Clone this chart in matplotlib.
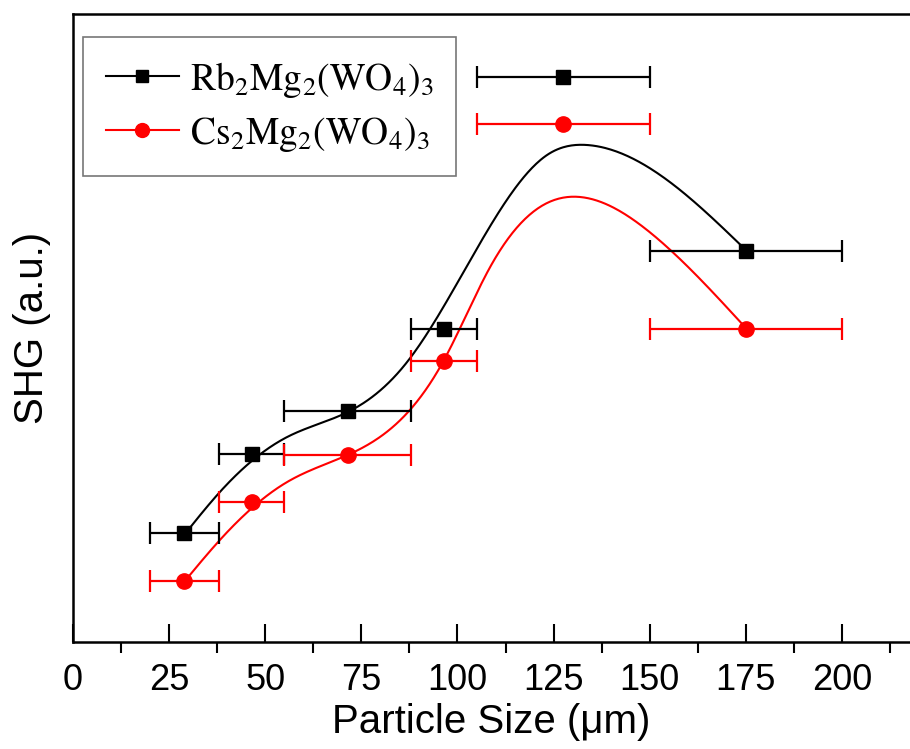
import numpy as np
import matplotlib.pyplot as plt
from matplotlib.ticker import MultipleLocator

plt.rcParams['font.family'] = ['Liberation Sans', 'DejaVu Sans']
plt.rcParams['mathtext.fontset'] = 'stix'

# sieve ranges (um) and SHG intensities (a.u.)
size_lo = np.array([20, 38, 55, 88, 105, 150])
size_hi = np.array([38, 55, 88, 105, 150, 200])
size_mid = (size_lo + size_hi) / 2
shg_rb = np.array([1.09, 1.88, 2.31, 3.13, 5.65, 3.91])
shg_cs = np.array([0.61, 1.40, 1.87, 2.81, 5.18, 3.13])

# guide-to-the-eye curves, knots
curve_x_rb = [29.1, 38.2, 55.7, 72.0, 86.9, 105.9, 123.3, 133.7, 157.9, 175.0]
curve_y_rb = [1.08, 1.50, 2.05, 2.31, 2.80, 3.99, 4.87, 4.97, 4.52, 3.92]
curve_x_cs = [29.1, 38.2, 55.7, 72.0, 96.5, 108.5, 123.3, 131.9, 149.3, 175.0]
curve_y_cs = [0.61, 1.02, 1.60, 1.88, 2.82, 3.75, 4.39, 4.45, 4.12, 3.14]


def spline(x, y, n=400):
    # natural cubic spline through the knots
    x = np.asarray(x, float)
    y = np.asarray(y, float)
    k = len(x)
    h = np.diff(x)
    A = np.zeros((k, k))
    b = np.zeros(k)
    A[0, 0] = A[-1, -1] = 1
    for i in range(1, k - 1):
        A[i, i - 1] = h[i - 1]
        A[i, i] = 2 * (h[i - 1] + h[i])
        A[i, i + 1] = h[i]
        b[i] = 6 * ((y[i + 1] - y[i]) / h[i] - (y[i] - y[i - 1]) / h[i - 1])
    m = np.linalg.solve(A, b)
    xs = np.linspace(x[0], x[-1], n)
    j = np.clip(np.searchsorted(x, xs) - 1, 0, k - 2)
    t = xs - x[j]
    hj = h[j]
    ys = (m[j] * (x[j + 1] - xs) ** 3 / (6 * hj) + m[j + 1] * t ** 3 / (6 * hj)
          + (y[j] / hj - m[j] * hj / 6) * (x[j + 1] - xs)
          + (y[j + 1] / hj - m[j + 1] * hj / 6) * t)
    return xs, ys


fig = plt.figure(figsize=(9.1, 7.49), dpi=100)
ax = fig.add_axes([73 / 910, 107 / 749, 837 / 910, 628 / 749])

sx, sy = spline(curve_x_rb, curve_y_rb)
ax.plot(sx, sy, color='black', lw=1.5, zorder=2)
sx, sy = spline(curve_x_cs, curve_y_cs)
ax.plot(sx, sy, color='red', lw=1.5, zorder=2)

xerr = [size_mid - size_lo, size_hi - size_mid]
ax.errorbar(size_mid, shg_rb, xerr=xerr, fmt='none', ecolor='black', elinewidth=1.6,
            capsize=8, capthick=1.6, zorder=3)
ax.errorbar(size_mid, shg_cs, xerr=xerr, fmt='none', ecolor='red', elinewidth=1.6,
            capsize=8, capthick=1.6, zorder=3)
ax.plot(size_mid, shg_rb, 's', color='black', ms=10, zorder=4)
ax.plot(size_mid, shg_cs, 'o', color='red', ms=11, zorder=4)

# legend handles
ax.plot([], [], '-s', color='black', lw=1.5, ms=9,
        label=r'$\mathrm{Rb_2Mg_2(WO_4)_3}$')
ax.plot([], [], '-o', color='red', lw=1.5, ms=10,
        label=r'$\mathrm{Cs_2Mg_2(WO_4)_3}$')
leg = ax.legend(loc='upper left', bbox_to_anchor=(10 / 837, 1 - 23 / 628), fontsize=27,
                fancybox=False, edgecolor='#555555', handlelength=1.95, handletextpad=0.3,
                labelspacing=0.4, borderpad=0.6, borderaxespad=0)
leg.get_frame().set_linewidth(1.2)

ax.set_xlim(0, 217.7)
ax.set_ylim(0, 6.28)
ax.xaxis.set_major_locator(MultipleLocator(25))
ax.xaxis.set_minor_locator(MultipleLocator(12.5))
ax.tick_params(axis='x', which='major', direction='in', length=13, width=1.5,
               labelsize=26, pad=15)
ax.tick_params(axis='x', which='minor', direction='out', length=8, width=1.5)
ax.set_yticks([])
ax.spines['right'].set_visible(False)
for s in ['left', 'bottom', 'top']:
    ax.spines[s].set_linewidth(1.8)

ax.set_xlabel('Particle Size (\u03bcm)', fontsize=29, labelpad=4)
ax.set_ylabel('SHG (a.u.)', fontsize=29, labelpad=16)

plt.savefig('out.png')
